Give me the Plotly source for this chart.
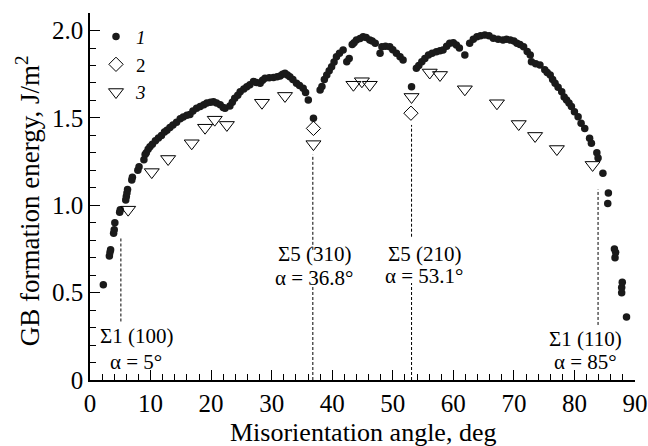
import plotly.graph_objects as go

# Series 1 (filled circles): misorientation angle (deg), energy (J/m^2)
s1_x = [2.2, 3.2, 3.3, 3.4, 3.9, 4.0, 4.1, 4.9, 5.0, 5.9, 6.0, 6.1, 6.2, 6.9, 7.0, 7.9, 8.1, 8.9, 9.1, 9.3,
        9.6, 9.9, 10.3, 10.8, 11.3, 11.8, 12.3, 12.7, 13.2, 13.7, 14.3, 14.9, 15.4, 16.0, 16.5, 17.0, 17.6,
        18.2, 18.8, 19.3, 19.9, 20.4, 20.9, 21.5, 22.0, 22.3, 23.1, 23.5, 23.9, 24.4, 24.8, 25.4, 25.9,
        26.4, 27.0, 27.5, 28.1, 28.5, 28.9, 29.6, 30.3, 30.9, 31.4, 31.8, 32.2, 32.6, 33.0, 33.5, 34.1,
        34.6, 35.2, 35.6, 36.05, 36.9, 38.0, 38.3, 38.7, 39.1, 39.5, 39.9, 40.3, 40.7, 41.2, 41.8, 42.4,
        42.8, 43.3, 43.6, 44.0, 44.6, 45.1, 45.6, 46.2, 46.6, 47.1, 47.9, 48.2, 48.8, 49.5, 50.0, 50.6,
        51.2, 51.7, 53.1, 53.9, 54.3, 54.8, 55.3, 55.9, 56.5, 57.2, 57.8, 58.3, 58.9, 59.4, 60.0, 60.5,
        61.0, 61.9, 62.7, 63.3, 63.9, 64.5, 65.2, 65.9, 66.6, 67.4, 68.2, 68.8, 69.4, 70.0, 70.5, 71.0,
        71.6, 72.2, 72.7, 72.9, 73.6, 74.3, 75.1, 75.5, 76.0, 76.4, 76.8, 77.3, 77.9, 78.3, 78.7, 79.1,
        79.5, 80.0, 80.6, 81.1, 81.7, 82.5, 82.8, 83.7, 83.9, 84.7, 85.6, 85.5, 86.7, 86.8, 86.6, 87.8,
        87.8, 87.9, 88.6]
s1_y = [0.545, 0.71, 0.73, 0.745, 0.84, 0.86, 0.90, 0.96, 0.975, 1.03, 1.05, 1.07, 1.09, 1.145, 1.16, 1.20,
        1.22, 1.26, 1.29, 1.30, 1.32, 1.335, 1.35, 1.37, 1.385, 1.40, 1.42, 1.43, 1.445, 1.46, 1.475, 1.495,
        1.505, 1.515, 1.52, 1.54, 1.555, 1.565, 1.575, 1.585, 1.59, 1.593, 1.585, 1.575, 1.56, 1.555, 1.568,
        1.59, 1.612, 1.63, 1.65, 1.665, 1.679, 1.69, 1.708, 1.703, 1.698, 1.715, 1.727, 1.73, 1.732, 1.735,
        1.74, 1.75, 1.756, 1.745, 1.736, 1.72, 1.698, 1.685, 1.67, 1.645, 1.603, 1.498, 1.66, 1.68, 1.72,
        1.746, 1.77, 1.793, 1.82, 1.85, 1.87, 1.889, 1.822, 1.84, 1.92, 1.93, 1.946, 1.955, 1.965, 1.96,
        1.946, 1.94, 1.927, 1.87, 1.908, 1.91, 1.908, 1.89, 1.87, 1.85, 1.832, 1.679, 1.784, 1.80, 1.822,
        1.84, 1.86, 1.87, 1.879, 1.885, 1.889, 1.91, 1.927, 1.93, 1.918, 1.90, 1.86, 1.927, 1.95, 1.965,
        1.97, 1.975, 1.97, 1.956, 1.95, 1.946, 1.95, 1.946, 1.94, 1.927, 1.92, 1.908, 1.88, 1.86, 1.822,
        1.81, 1.803, 1.775, 1.76, 1.746, 1.72, 1.698, 1.675, 1.65, 1.62, 1.603, 1.585, 1.565, 1.535, 1.507,
        1.47, 1.44, 1.383, 1.355, 1.30, 1.27, 1.183, 1.07, 1.01, 0.70, 0.73, 0.75, 0.50, 0.53, 0.56, 0.36]

# Series 2 (open diamonds)
s2_x = [36.9, 53.0]
s2_y = [1.44, 1.527]

# Series 3 (open down-triangles)
s3_x = [6.3, 10.2, 12.9, 16.8, 19.0, 20.6, 22.6, 28.4, 32.2, 36.9, 43.5, 44.9, 46.2, 53.1, 56.1, 57.8,
        61.9, 67.2, 70.8, 73.5, 77.1, 83.0]
s3_y = [0.975, 1.19, 1.265, 1.355, 1.444, 1.49, 1.46, 1.587, 1.626, 1.35, 1.69, 1.71, 1.69, 1.62, 1.76,
        1.746, 1.664, 1.584, 1.465, 1.397, 1.322, 1.231]

# Special boundaries (dashed guide lines): angle, and visible segments (y ranges)
guide_x = [5.1, 36.8, 53.1, 83.9]
guide_segments = [
    [(0.335, 0.82)],
    [(0.0, 0.54), (0.745, 1.29)],
    [(0.0, 0.555), (0.82, 1.46)],
    [(0.315, 1.09)],
]
label_top = ["Σ1 (100)", "Σ5 (310)", "Σ5 (210)", "Σ1 (110)"]
label_bot = ["α = 5°", "α = 36.8°", "α = 53.1°", "α = 85°"]
label_x = [7.6, 37.15, 55.3, 81.8]
label_y_top = [0.25, 0.72, 0.72, 0.235]
label_y_bot = [0.105, 0.585, 0.595, 0.105]

x_ticks = [0, 10, 20, 30, 40, 50, 60, 70, 80, 90]
y_ticks = [0, 0.5, 1.0, 1.5, 2.0]
y_ticktext = ["0", "0.5", "1.0", "1.5", "2.0"]

FONT = "Liberation Serif"

fig = go.Figure()

for gx, segs in zip(guide_x, guide_segments):
    for (y0, y1) in segs:
        fig.add_trace(go.Scatter(x=[gx, gx], y=[y0, y1], mode="lines",
                                 line=dict(color="black", width=1, dash="3px,2px"),
                                 showlegend=False, hoverinfo="skip"))

fig.add_trace(go.Scatter(x=s1_x, y=s1_y, mode="markers", name="<i>1</i>",
                         marker=dict(symbol="circle", size=7.5, color="#1a1a1a"), cliponaxis=False))
fig.add_trace(go.Scatter(x=s2_x, y=s2_y, mode="markers", name="2",
                         marker=dict(symbol="diamond-open", size=11, color="black", line=dict(width=1)),
                         cliponaxis=False))
fig.add_trace(go.Scatter(x=s3_x, y=s3_y, mode="markers", name="<i>3</i>",
                         marker=dict(symbol="triangle-down-open", size=13, color="black", line=dict(width=1)),
                         cliponaxis=False))

for t, b, lx, yt, yb in zip(label_top, label_bot, label_x, label_y_top, label_y_bot):
    fig.add_annotation(x=lx, y=yt, text=t, showarrow=False, font=dict(family=FONT, size=21, color="black"),
                       xanchor="center", yanchor="middle")
    fig.add_annotation(x=lx, y=yb, text=b, showarrow=False, font=dict(family=FONT, size=21, color="black"),
                       xanchor="center", yanchor="middle")

fig.add_annotation(x=0.5, y=-0.1444, xref="paper", yref="paper", text="Misorientation angle, deg",
                   showarrow=False, font=dict(family=FONT, size=26, color="black"),
                   xanchor="center", yanchor="middle")
fig.add_annotation(x=-0.1138, y=0.49, xref="paper", yref="paper", text="GB formation energy, J/m<sup>2</sup>",
                   showarrow=False, textangle=-90, font=dict(family=FONT, size=27, color="black"),
                   xanchor="center", yanchor="middle")

fig.update_xaxes(range=[0, 90], tickvals=x_ticks, ticks="inside", ticklen=10, tickwidth=1.2,
                 tickcolor="black", showline=True, linecolor="black", linewidth=1.6, showgrid=False,
                 zeroline=False, automargin=False, tickfont=dict(family=FONT, size=25, color="black"),
                 minor=dict(dtick=2, ticks="inside", ticklen=6, tickwidth=1.2, tickcolor="black", showgrid=False))
fig.update_yaxes(range=[0, 2.1005], tickvals=y_ticks, ticktext=y_ticktext, ticks="inside", ticklen=10,
                 tickwidth=1.2, tickcolor="black", showline=True, linecolor="black", linewidth=1.6,
                 showgrid=False, zeroline=False, automargin=False,
                 tickfont=dict(family=FONT, size=25, color="black"),
                 minor=dict(dtick=0.1, tick0=0, ticks="inside", ticklen=6, tickwidth=1.2, tickcolor="black",
                            showgrid=False))

fig.update_layout(width=648, height=446, margin=dict(l=90, r=13, t=13, b=66, autoexpand=False),
                  plot_bgcolor="white", paper_bgcolor="white",
                  font=dict(family=FONT, color="black"),
                  legend=dict(x=0.011, y=0.987, xanchor="left", yanchor="top", bgcolor="rgba(0,0,0,0)",
                              font=dict(family=FONT, size=19, color="black"), itemsizing="trace",
                              tracegroupgap=0))

fig.write_html("out.html", config={"displayModeBar": False},
               post_script="document.body.style.margin='0';document.body.style.overflow='hidden';")
